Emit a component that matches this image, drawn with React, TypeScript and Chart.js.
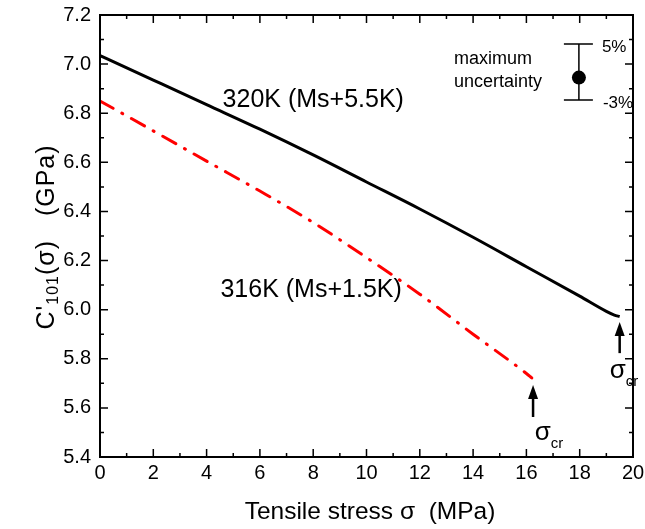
import React, { useEffect, useRef } from 'react';
import { Chart, registerables } from 'chart.js';
Chart.register(...registerables);

const stress320 = [0, 2, 4, 6, 8, 10, 12, 14, 16, 18, 19, 19.3, 19.5];
const modulus320 = [7.035, 6.935, 6.835, 6.735, 6.63, 6.52, 6.41, 6.295, 6.175, 6.055, 5.993, 5.978, 5.972];
const stress316 = [0, 2, 4, 6, 8, 10, 12, 14, 16, 16.2];
const modulus316 = [6.85, 6.728, 6.605, 6.483, 6.355, 6.212, 6.063, 5.9, 5.74, 5.722];
const xTickValues = [0, 2, 4, 6, 8, 10, 12, 14, 16, 18, 20];
const yTickValues = [5.4, 5.6, 5.8, 6.0, 6.2, 6.4, 6.6, 6.8, 7.0, 7.2];
const label320 = '320K (Ms+5.5K)';
const label316 = '316K (Ms+1.5K)';
const FONT = '"Liberation Sans", Arial, Helvetica, sans-serif';

const decor = {
  id: 'decor',
  afterDatasetsDraw(chart: any) {
    const ctx = chart.ctx as CanvasRenderingContext2D;
    const { left, right, top, bottom } = chart.chartArea;
    const xs = chart.scales.x;
    const ys = chart.scales.y;
    ctx.save();
    ctx.strokeStyle = '#000';
    ctx.fillStyle = '#000';
    // frame
    ctx.lineWidth = 2;
    ctx.strokeRect(left, top, right - left, bottom - top);
    // ticks
    ctx.lineWidth = 1.5;
    ctx.beginPath();
    for (let v = 0; v <= 20; v += 1) {
      const px = xs.getPixelForValue(v);
      const len = v % 2 === 0 ? 8 : 4;
      ctx.moveTo(px, bottom); ctx.lineTo(px, bottom - len);
      ctx.moveTo(px, top); ctx.lineTo(px, top + len);
    }
    for (let i = 0; i <= 18; i++) {
      const v = 5.4 + i * 0.1;
      const py = ys.getPixelForValue(v);
      const len = i % 2 === 0 ? 8 : 4;
      ctx.moveTo(left, py); ctx.lineTo(left + len, py);
      ctx.moveTo(right, py); ctx.lineTo(right - len, py);
    }
    ctx.stroke();

    // axis titles
    ctx.textBaseline = 'middle';
    ctx.textAlign = 'center';
    ctx.font = `24.5px ${FONT}`;
    ctx.fillText('Tensile stress σ  (MPa)', 370, 512);

    // y title with subscript
    ctx.save();
    ctx.translate(47, 237);
    ctx.rotate(-Math.PI / 2);
    ctx.textAlign = 'left';
    (ctx as any).letterSpacing = '1px';
    const big = `25px ${FONT}`;
    const small = `16px ${FONT}`;
    const parts: [string, string, number][] = [
      ["C'", big, 0],
      ['101', small, 7],
      ['(σ)   (GPa)', big, 0],
    ];
    let total = 0;
    for (const [t, f] of parts) { ctx.font = f; total += ctx.measureText(t).width; }
    let cx = -total / 2;
    for (const [t, f, dy] of parts) {
      ctx.font = f;
      ctx.fillText(t, cx, dy);
      cx += ctx.measureText(t).width;
    }
    (ctx as any).letterSpacing = '0px';
    ctx.restore();

    // curve labels
    ctx.textAlign = 'left';
    ctx.font = `25px ${FONT}`;
    ctx.fillText(label320, xs.getPixelForValue(4.6), ys.getPixelForValue(6.854));
    ctx.fillText(label316, xs.getPixelForValue(4.52), ys.getPixelForValue(6.08));

    // arrows
    const arrow = (sx: number, vTip: number, vBase: number) => {
      const px = xs.getPixelForValue(sx);
      const pt = ys.getPixelForValue(vTip);
      const pb = ys.getPixelForValue(vBase);
      ctx.lineWidth = 2.5;
      ctx.beginPath();
      ctx.moveTo(px, pb); ctx.lineTo(px, pt + 10);
      ctx.stroke();
      ctx.beginPath();
      ctx.moveTo(px, pt); ctx.lineTo(px - 5, pt + 14); ctx.lineTo(px + 5, pt + 14);
      ctx.closePath(); ctx.fill();
    };
    arrow(19.5, 5.95, 5.823);
    arrow(16.25, 5.693, 5.563);

    // sigma_cr labels
    const sigmaCr = (sx: number, v: number) => {
      const px = xs.getPixelForValue(sx);
      const py = ys.getPixelForValue(v);
      ctx.textAlign = 'left';
      ctx.font = `26px ${FONT}`;
      ctx.fillText('σ', px, py);
      const w = ctx.measureText('σ').width;
      ctx.font = `15px ${FONT}`;
      ctx.fillText('cr', px + w, py + 11);
    };
    sigmaCr(19.13, 5.75);
    sigmaCr(16.31, 5.497);

    // uncertainty legend
    const ex = xs.getPixelForValue(17.97);
    const eTop = ys.getPixelForValue(7.082);
    const eBot = ys.getPixelForValue(6.854);
    const eMid = ys.getPixelForValue(6.945);
    ctx.lineWidth = 1.5;
    ctx.beginPath();
    ctx.moveTo(ex, eTop); ctx.lineTo(ex, eBot);
    ctx.moveTo(ex - 15, eTop); ctx.lineTo(ex + 14, eTop);
    ctx.moveTo(ex - 15, eBot); ctx.lineTo(ex + 14, eBot);
    ctx.stroke();
    ctx.beginPath();
    ctx.arc(ex, eMid, 7, 0, Math.PI * 2);
    ctx.fill();
    ctx.font = `17px ${FONT}`;
    ctx.textAlign = 'left';
    ctx.fillText('5%', ex + 23, eTop + 3);
    ctx.fillText('-3%', ex + 24, eBot + 3);
    ctx.font = `18px ${FONT}`;
    ctx.fillText('maximum', ex - 125, ys.getPixelForValue(7.02));
    ctx.fillText('uncertainty', ex - 125, ys.getPixelForValue(6.926));
    ctx.restore();
  },
};

export default function App() {
  const ref = useRef<HTMLCanvasElement>(null);
  useEffect(() => {
    if (!ref.current) return;
    const chart = new Chart(ref.current, {
      type: 'line',
      data: {
        datasets: [
          {
            label: label320,
            data: stress320.map((x, i) => ({ x, y: modulus320[i] })),
            borderColor: '#000',
            borderWidth: 3,
            pointRadius: 0,
            cubicInterpolationMode: 'monotone',
          },
          {
            label: label316,
            data: stress316.map((x, i) => ({ x, y: modulus316[i] })),
            borderColor: '#ff0000',
            borderWidth: 3,
            borderDash: [15, 10, 1, 10],
            borderCapStyle: 'round',
            pointRadius: 0,
            cubicInterpolationMode: 'monotone',
          },
        ],
      },
      options: {
        animation: false,
        responsive: false,
        layout: { padding: { left: 0, right: 12, top: 15, bottom: 0 } },
        plugins: { legend: { display: false }, tooltip: { enabled: false } },
        scales: {
          x: {
            type: 'linear',
            min: 0,
            max: 20,
            afterBuildTicks: (s: any) => { s.ticks = xTickValues.map((v) => ({ value: v })); },
            afterFit: (s: any) => { s.height = 72; s.paddingLeft = 0; s.paddingRight = 0; },
            grid: { display: false, drawTicks: false, tickLength: 0 },
            border: { display: false },
            ticks: { color: '#000', font: { family: FONT, size: 20 }, padding: 4, maxRotation: 0, autoSkip: false },
          },
          y: {
            type: 'linear',
            min: 5.4,
            max: 7.2,
            afterBuildTicks: (s: any) => { s.ticks = yTickValues.map((v) => ({ value: v })); },
            afterFit: (s: any) => { s.width = 100; s.paddingTop = 0; s.paddingBottom = 0; },
            grid: { display: false, drawTicks: false, tickLength: 0 },
            border: { display: false },
            ticks: {
              color: '#000',
              font: { family: FONT, size: 20 },
              padding: 9,
              autoSkip: false,
              callback: (v: any) => Number(v).toFixed(1),
            },
          },
        },
      },
      plugins: [decor],
    });
    return () => chart.destroy();
  }, []);
  return (
    <div style={{ position: 'absolute', left: 0, top: 0, width: 645, height: 529, background: '#fff' }}>
      <canvas ref={ref} width={645} height={529} />
    </div>
  );
}
